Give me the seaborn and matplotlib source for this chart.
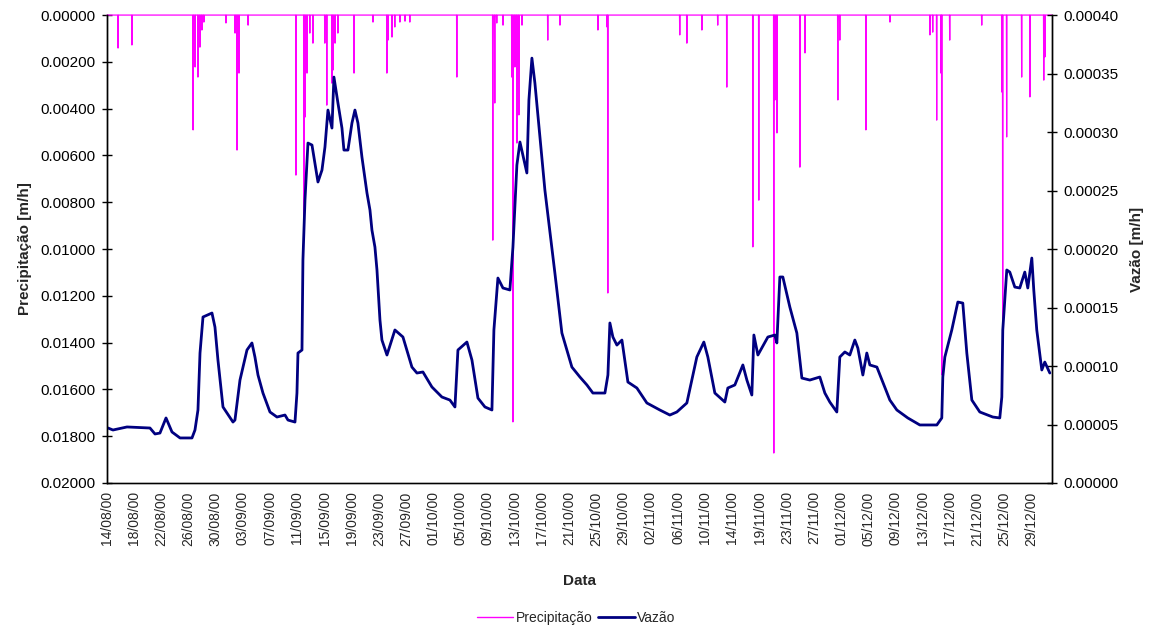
import numpy as np
import pandas as pd
import matplotlib
matplotlib.use("Agg")
import matplotlib.pyplot as plt
import seaborn as sns
from matplotlib.ticker import FormatStrFormatter, FixedLocator
from matplotlib.lines import Line2D

# ---------------- data ----------------
# x: days since 14/08/00 (position in the Excel category axis)
dias_vazao = [0.15, 0.88, 2.94, 6.32, 7.06, 7.79, 8.68, 9.56, 10.74, 12.50, 12.94, 13.38, 13.68, 14.12,
              15.44, 15.88, 16.32, 17.06, 18.53, 18.82, 19.56, 20.59, 21.32, 21.76, 22.21, 22.94, 23.97,
              25.00, 26.18, 26.62, 27.65, 27.94, 28.09, 28.68, 28.82, 29.12, 29.56, 30.15, 31.03, 31.62,
              32.06, 32.50, 33.09, 33.38, 33.97, 34.56, 34.85, 35.44, 36.03, 36.47, 36.91, 37.50, 38.24,
              38.68, 38.97, 39.41, 39.71, 40.15, 40.44, 41.18, 42.35, 43.53, 44.85, 45.59, 46.47, 47.79,
              49.26, 50.44, 51.18, 51.62, 52.94, 53.68, 54.56, 55.59, 56.62, 56.91, 57.50, 58.24, 59.26,
              59.71, 60.29, 60.74, 61.76, 62.06, 62.50, 62.94, 64.41, 65.88, 66.91, 68.38, 69.56, 70.59,
              71.47, 73.24, 73.68, 73.97, 74.41, 75.00, 75.74, 76.62, 77.94, 79.41, 81.32, 82.79, 83.82,
              85.29, 86.76, 87.79, 88.38, 89.41, 90.88, 91.32, 92.35, 93.53, 94.12, 94.85, 95.15, 95.74,
              97.21, 98.24, 98.53, 98.97, 99.41, 100.44, 101.47, 102.21, 103.38, 104.85, 105.59, 106.32,
              107.35, 107.79, 108.53, 109.26, 110.00, 110.44, 111.18, 111.76, 112.21, 113.24, 115.15,
              116.18, 117.79, 119.56, 122.06, 122.79, 122.94, 123.24, 124.26, 125.15, 125.88, 126.47,
              127.21, 128.38, 130.29, 131.32, 131.62, 131.76, 132.35, 132.79, 133.53, 134.26, 135.00,
              135.44, 136.03, 136.32, 136.76, 137.50, 137.94, 138.68]
# Vazão in units of 1e-5 m/h
vazao_e5 = [4.70, 4.53, 4.79, 4.70, 4.19, 4.27, 5.56, 4.36, 3.85, 3.85, 4.53, 6.24, 11.11, 14.19,
            14.53, 13.33, 10.51, 6.50, 5.21, 5.38, 8.80, 11.37, 11.97, 10.77, 9.23, 7.69, 6.07,
            5.64, 5.81, 5.38, 5.21, 7.69, 11.11, 11.37, 19.06, 24.19, 29.06, 28.89, 25.73, 26.75,
            28.72, 31.88, 30.34, 34.70, 32.48, 30.34, 28.46, 28.46, 30.77, 31.88, 30.77, 27.86, 24.79,
            23.33, 21.62, 20.17, 18.21, 13.93, 12.22, 10.94, 13.08, 12.48, 9.91, 9.40, 9.49, 8.21,
            7.35, 7.09, 6.50, 11.37, 12.05, 10.51, 7.26, 6.50, 6.24, 13.08, 17.52, 16.67, 16.50,
            20.17, 27.18, 29.15, 26.50, 32.74, 36.32, 34.19, 25.04, 17.95, 12.82, 9.91, 9.06, 8.38,
            7.69, 7.69, 9.23, 13.68, 12.48, 11.79, 12.22, 8.63, 8.12, 6.84, 6.24, 5.81, 6.07,
            6.84, 10.77, 12.05, 10.77, 7.69, 6.92, 8.12, 8.38, 10.09, 8.80, 7.52, 12.65, 10.94,
            12.48, 12.65, 11.97, 17.61, 17.61, 15.04, 12.82, 8.97, 8.80, 9.06, 7.69, 6.92,
            6.07, 10.77, 11.20, 10.94, 12.22, 11.54, 9.23, 11.11, 10.09, 9.91, 7.09,
            6.24, 5.56, 4.96, 4.96, 5.56, 9.06, 10.77, 13.08, 15.47, 15.38, 11.11,
            7.09, 6.07, 5.64, 5.56, 7.35, 13.08, 18.21, 18.03, 16.75, 16.67, 18.03,
            16.67, 19.23, 16.50, 13.08, 9.66, 10.34, 9.40]

dias_chuva = [1.62, 3.68, 12.65, 12.94, 13.38, 13.68, 13.97, 14.26, 17.50, 18.82, 19.12, 19.41, 20.74,
              27.79, 28.97, 29.12, 29.41, 29.85, 30.29, 32.06, 32.35, 33.09, 33.24, 33.53, 33.97, 36.32,
              39.12, 41.18, 41.32, 41.91, 42.35, 43.09, 43.82, 44.56, 51.47, 56.76, 57.06, 57.35, 58.24,
              59.56, 59.71, 60.00, 60.29, 60.59, 61.03, 64.85, 66.62, 72.21, 73.53, 73.68, 84.26, 85.29,
              87.50, 89.85, 91.18, 95.00, 95.88, 98.09, 98.24, 98.53, 101.91, 102.65, 107.50, 107.79,
              111.62, 115.15, 121.03, 121.47, 122.06, 122.65, 122.79, 123.97, 128.68, 131.62, 131.76,
              132.35, 134.56, 135.74, 137.79, 137.94]
# Precipitação in units of 1e-3 m/h
chuva_e3 = [1.41, 1.28, 4.91, 2.22, 2.65, 1.37, 0.64, 0.30, 0.34, 0.77, 5.77, 2.48, 0.43,
            6.84, 8.63, 4.36, 2.48, 0.77, 1.20, 1.20, 3.85, 2.91, 2.35, 1.20, 0.77, 2.48,
            0.30, 2.48, 1.07, 0.94, 0.51, 0.30, 0.26, 0.30, 2.65, 9.62, 3.76, 0.34, 0.43,
            2.65, 17.39, 2.22, 5.47, 4.27, 0.43, 1.07, 0.43, 0.64, 0.51, 11.88, 0.85, 1.20,
            0.64, 0.43, 3.08, 9.91, 7.91, 18.72, 3.63, 5.04, 6.50, 1.62, 3.63, 1.07,
            4.91, 0.30, 0.85, 0.73, 4.49, 2.48, 15.38, 1.07, 0.43, 3.29, 13.46,
            5.21, 2.65, 3.50, 2.78, 1.79]

rotulos_data = ["14/08/00", "18/08/00", "22/08/00", "26/08/00", "30/08/00", "03/09/00", "07/09/00",
                "11/09/00", "15/09/00", "19/09/00", "23/09/00", "27/09/00", "01/10/00", "05/10/00",
                "09/10/00", "13/10/00", "17/10/00", "21/10/00", "25/10/00", "29/10/00", "02/11/00",
                "06/11/00", "10/11/00", "14/11/00", "19/11/00", "23/11/00", "27/11/00", "01/12/00",
                "05/12/00", "09/12/00", "13/12/00", "17/12/00", "21/12/00", "25/12/00", "29/12/00"]
n_dias = 139

# ---------------- build series ----------------
vazao = np.array(vazao_e5) * 1e-5
horas = np.arange(n_dias * 24 + 1) / 24.0
precip = np.zeros_like(horas)
idx = np.round(np.array(dias_chuva) * 24).astype(int)
for i, v in zip(idx, np.array(chuva_e3) * 1e-3):
    precip[i] = max(precip[i], v)

df_p = pd.DataFrame({"dia": horas, "precip": precip})
df_v = pd.DataFrame({"dia": dias_vazao, "vazao": vazao})

# ---------------- plot ----------------
sns.set_theme(style="white")
plt.rcParams["font.family"] = ["Liberation Sans", "DejaVu Sans"]

fig = plt.figure(figsize=(11.53, 6.28), dpi=100)
ax = fig.add_axes([0.0928, 0.2309, 0.9124 - 0.0928, 0.976 - 0.2309])
ax2 = ax.twinx()

magenta = "#FF00FF"
navy = "#000080"

sns.lineplot(data=df_p, x="dia", y="precip", ax=ax, color=magenta, lw=0.9,
             estimator=None, legend=False, clip_on=False)
sns.lineplot(data=df_v, x="dia", y="vazao", ax=ax2, color=navy, lw=2.0,
             estimator=None, legend=False)

ax.set_xlim(0, n_dias)
ax.set_ylim(0.02, 0.0)
ax2.set_ylim(0, 0.0004)

ax.yaxis.set_major_locator(FixedLocator(np.arange(0, 0.02001, 0.002)))
ax.yaxis.set_major_formatter(FormatStrFormatter("%.5f"))
ax2.yaxis.set_major_locator(FixedLocator(np.arange(0, 0.000401, 0.00005)))
ax2.yaxis.set_major_formatter(FormatStrFormatter("%.5f"))

ax.set_xticks(np.arange(len(rotulos_data)) * 4)
ax.set_xticklabels(rotulos_data, rotation=90, fontsize=10)

ax.tick_params(axis="y", direction="inout", length=7, width=1, labelsize=11, colors="black", pad=5)
ax2.tick_params(axis="y", direction="inout", length=7, width=1, labelsize=11, colors="black", pad=5)
ax.tick_params(axis="x", length=0, pad=6)

for a in (ax, ax2):
    a.spines["top"].set_visible(False)
    for s in ("left", "right", "bottom"):
        a.spines[s].set_color("black")
        a.spines[s].set_linewidth(1.0)
    a.grid(False)
ax.spines["bottom"].set_color("#444444")

ax.set_ylabel("Precipitação [m/h]", fontsize=11, fontweight="bold", labelpad=6)
ax2.set_ylabel("Vazão [m/h]", fontsize=11, fontweight="bold", labelpad=8)
ax.set_xlabel("Data", fontsize=11, fontweight="bold", labelpad=20)

handles = [Line2D([], [], color=magenta, lw=1.0), Line2D([], [], color=navy, lw=2.0)]
fig.legend(handles, ["Precipitação", "Vazão"], loc="center", bbox_to_anchor=(0.5, 0.016),
           ncol=2, frameon=False, fontsize=10, handlelength=2.6, handletextpad=0.2,
           columnspacing=0.4)

fig.savefig("out.png", dpi=100, facecolor="white")
